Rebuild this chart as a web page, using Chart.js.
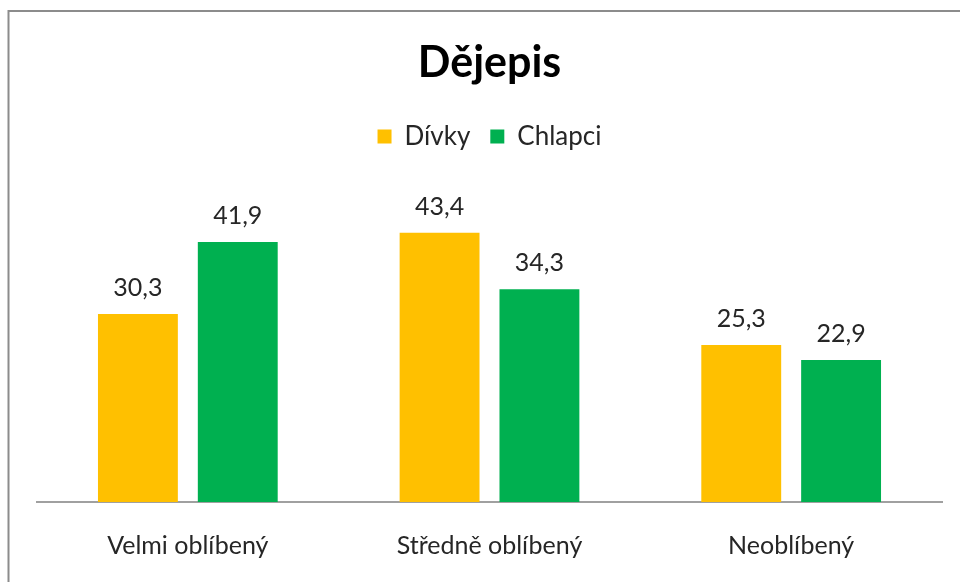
<!DOCTYPE html>
<html>
<head>
<meta charset="utf-8">
<script src="https://cdn.jsdelivr.net/npm/chart.js@4.4.0/dist/chart.umd.min.js"></script>
<style>
  html, body { margin: 0; padding: 0; background: #fff; }
  #wrap { width: 960px; height: 582px; }
</style>
</head>
<body>
<div id="wrap"><canvas id="chart" width="960" height="582"></canvas></div>
<script>
var categories = ['Velmi oblíbený', 'Středně oblíbený', 'Neoblíbený'];
var divky = [30.3, 43.4, 25.3];
var chlapci = [41.9, 34.3, 22.9];

var fontFamily = 'Lato, "Open Sans", sans-serif';

// frame round the chart, like the office export
var framePlugin = {
  id: 'frame',
  beforeDraw: function (chart) {
    var ctx = chart.ctx;
    ctx.save();
    ctx.fillStyle = '#fff';
    ctx.fillRect(0, 0, chart.width, chart.height);
    ctx.strokeStyle = '#8c8c8c';
    ctx.lineWidth = 2;
    ctx.strokeRect(8.5, 11, 1200, 1200);
    ctx.restore();
  }
};

// value labels above bars, with decimal comma
var valuePlugin = {
  id: 'values',
  afterDatasetsDraw: function (chart) {
    var ctx = chart.ctx;
    ctx.save();
    ctx.font = '25px ' + fontFamily;
    ctx.fillStyle = '#262626';
    ctx.textAlign = 'center';
    ctx.textBaseline = 'middle';
    chart.data.datasets.forEach(function (ds, i) {
      chart.getDatasetMeta(i).data.forEach(function (bar, j) {
        ctx.fillText(ds.data[j].toFixed(1).replace('.', ','), bar.x, bar.y - 26);
      });
    });
    ctx.restore();
  }
};

new Chart(document.getElementById('chart'), {
  type: 'bar',
  data: {
    labels: categories,
    datasets: [
      { label: 'Dívky', data: divky, backgroundColor: '#FFC000' },
      { label: 'Chlapci', data: chlapci, backgroundColor: '#00B050' }
    ]
  },
  options: {
    responsive: false,
    animation: false,
    layout: { padding: { top: 20, left: 37, right: 18, bottom: -8 } },
    datasets: { bar: { categoryPercentage: 0.662, barPercentage: 0.8 } },
    plugins: {
      title: {
        display: true,
        text: 'Dějepis',
        color: '#000',
        font: { family: fontFamily, size: 43, weight: 'bold' },
        padding: { top: 17, bottom: 15 }
      },
      legend: {
        display: true,
        labels: {
          color: '#262626',
          font: { family: fontFamily, size: 26 },
          boxWidth: 14,
          boxHeight: 14,
          padding: 20
        }
      },
      tooltip: { enabled: false }
    },
    scales: {
      x: {
        grid: { display: false, drawTicks: false },
        border: { display: true, color: '#a0a0a0', width: 2 },
        ticks: { color: '#262626', font: { family: fontFamily, size: 25 }, padding: 29 }
      },
      y: {
        display: false,
        min: 0,
        max: 55.2
      }
    }
  },
  plugins: [framePlugin, valuePlugin]
});
</script>
</body>
</html>
